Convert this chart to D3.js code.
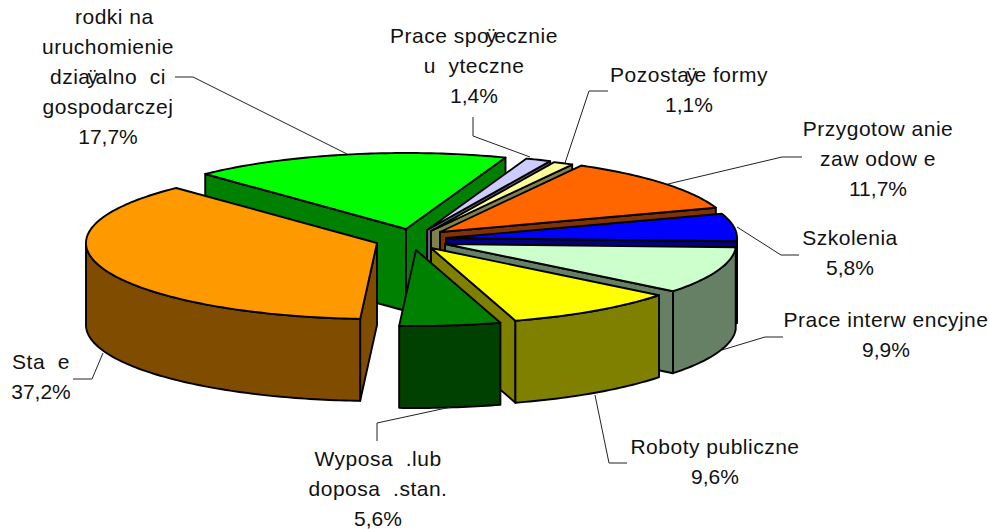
<!DOCTYPE html>
<html>
<head>
<meta charset="utf-8">
<script src="https://cdn.jsdelivr.net/npm/d3@7/dist/d3.min.js"></script>
<style>
html,body{margin:0;padding:0;background:#fff;}
svg{display:block;}
text{font-family:"Liberation Sans",Arial,sans-serif;font-size:21px;fill:#111;white-space:pre;}
</style>
</head>
<body>
<svg id="chart" width="989" height="529"></svg>
<script>
const categories = ["Pozostałe formy","Przygotowanie zawodowe","Szkolenia","Prace interwencyjne","Roboty publiczne","Wyposażenie lub doposażenie stanowiska","Staże","Środki na uruchomienie działalności gospodarczej","Prace społecznie użyteczne"];
const values = [1.1,11.7,5.8,9.9,9.6,5.6,37.2,17.7,1.4];
const labelLines = [
  ["Pozostaÿe formy","1,1%"],
  ["Przygotow anie","zaw odow e","11,7%"],
  ["Szkolenia","5,8%"],
  ["Prace interw encyjne","9,9%"],
  ["Roboty publiczne","9,6%"],
  ["Wyposa  .lub","doposa  .stan.","5,6%"],
  ["Sta  e","37,2%"],
  ["  rodki na","uruchomienie","dziaÿalno  ci","gospodarczej","17,7%"],
  ["Prace spoÿecznie","u  yteczne","1,4%"]
];
const topColors  = ["#FFFF99","#FF6600","#0000FF","#CCFFCC","#FFFF00","#008000","#FF9900","#00FF00","#CCCCFF"];
const sideColors = ["#80804D","#803300","#000080","#668066","#808000","#004000","#804D00","#008000","#666680"];
// layout: slice explosion, label anchors and leader paths (in pixels)
const explodeX = [-7,2,8,7,-7,-22,-61,-32,-11];
const explodeY = [-2,-1,5,11,15,17,10,-4,-3];
const labelX = [689,878,850,886,715,378,41,108,474];
const labelY = [82,136,245,327,454,466,369,24,43];
const leaders = [
  [[608,91],[589,91],[565,163]],
  [[802,157],[782,157],[668,184]],
  [[799,255],[781,255],[737,227]],
  [[783,337],[765,337],[722,350]],
  [[627,463],[609,463],[595,395]],
  [[377,441],[377,423],[451,407]],
  [[73,379],[92,379],[103,353]],
  [[175,77],[193,77],[347,154]],
  [[473,117],[473,136],[530,157]]
];
const drawOrder = [7,8,0,1,2,3,4,6,5];
const firstAngle = 26, depth = 82, lineGap = 30;

const svg = d3.select("#chart");
const rad = d => d*Math.PI/180;
const xScale = d3.scaleLinear().domain([-1,1]).range([438-291,438+291]);
const yScale = d3.scaleLinear().domain([-1,1]).range([233+76,233-76]);

const pie = d3.pie().sort(null).value(d=>d).startAngle(rad(firstAngle)).endAngle(rad(firstAngle+360));
const arcs = pie(values);

// mild perspective warp of the tilted disc
function warp(a){
  return a - rad(0.5)*(1+Math.cos(a));
}
function rimPoint(a,i,drop){
  const w=warp(a);
  return [xScale(Math.sin(w))+explodeX[i], yScale(Math.cos(w))+explodeY[i]+drop];
}
function apex(i,drop){ return [xScale(0)+explodeX[i], yScale(0)+explodeY[i]+drop]; }

const closed = d3.line().curve(d3.curveLinearClosed);
function rimSamples(a0,a1){
  const n=Math.max(2,Math.ceil((a1-a0)/rad(1)));
  return d3.range(n+1).map(k=>a0+(a1-a0)*k/n);
}
const stroke = {stroke:"#000","stroke-width":1.9,"stroke-linejoin":"round"};
function face(g,pts,fill){
  const p=g.append("path").attr("d",closed(pts)).attr("fill",fill);
  Object.entries(stroke).forEach(([k,v])=>p.attr(k,v));
}

const slices = svg.append("g");
drawOrder.forEach(i=>{
  const d=arcs[i], g=slices.append("g"), a0=d.startAngle, a1=d.endAngle;
  const side=sideColors[i];
  if(Math.sin(warp(a0))<0) face(g,[apex(i,0),rimPoint(a0,i,0),rimPoint(a0,i,depth),apex(i,depth)],side);
  if(Math.sin(warp(a1))>0) face(g,[apex(i,0),rimPoint(a1,i,0),rimPoint(a1,i,depth),apex(i,depth)],side);
  const front=rimSamples(a0,a1).filter(a=>Math.cos(warp(a))<0);
  if(front.length>1){
    face(g,[...front.map(a=>rimPoint(a,i,0)),...front.slice().reverse().map(a=>rimPoint(a,i,depth))],side);
  }
  face(g,[apex(i,0),...rimSamples(a0,a1).map(a=>rimPoint(a,i,0))],topColors[i]);
});

const leaderLine = d3.line();
svg.append("g").selectAll("path").data(leaders).join("path")
  .attr("d",d=>leaderLine(d)).attr("fill","none").attr("stroke","#222").attr("stroke-width",1);

const labels = svg.append("g");
labelLines.forEach((lines,i)=>{
  lines.forEach((line,j)=>{
    const t=labels.append("text").attr("x",labelX[i]).attr("y",labelY[i]+j*lineGap).attr("text-anchor","middle")
      .style("letter-spacing",line.includes("%")?"0":"0.5px");
    const parts=line.split(/(ÿ)/);
    parts.forEach((part,k)=>{
      const ts=t.append("tspan").text(part);
      if(k>0) ts.attr("dx",-3);
    });
  });
});
</script>
</body>
</html>
